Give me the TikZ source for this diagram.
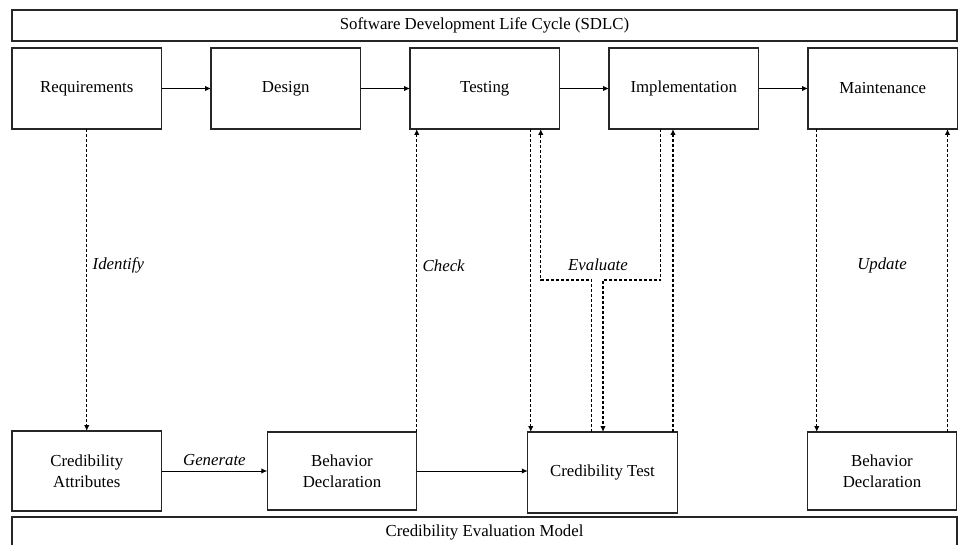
\documentclass[tikz,border=0pt]{standalone}
\usepackage{fontspec}
\setmainfont{Liberation Serif}
\usetikzlibrary{positioning, arrows.meta}
\tikzset{x=1pt, y=-1pt, node distance=49.5pt,
  box/.style={draw=black!85, line width=1.3pt, outer sep=0pt, minimum width=149.5pt, minimum height=81pt, align=center, font=\fontsize{16.8}{21}\selectfont},
  banner/.style={box, minimum width=945pt, minimum height=31pt, anchor=north west},
  flow/.style={-{Latex[length=6pt,width=5.5pt]}, line width=1pt},
  link/.style={flow, line width=1.2pt, dash pattern=on 3pt off 2pt},
  verb/.style={font=\fontsize{16.8}{21}\selectfont\itshape}}

\begin{document}
\begin{tikzpicture}
            \useasboundingbox (0,0) rectangle (958,545);
            \node[banner] (sdlc) at (12,10) {Software Development Life Cycle (SDLC)};
            \node[box, anchor=north west] (req) at (12,48) {Requirements};
            \node[box, right=of req] (des) {Design};
            \node[box, right=of des] (tst) {Testing};
            \node[box, right=of tst] (imp) {Implementation};
            \node[box, right=of imp] (mnt) {Maintenance};

            \node[box, minimum height=80pt] (attr) at (86.75,471) {Credibility\\Attributes};
            \node[box, minimum height=78pt] (decl) at (342,471) {Behavior\\Declaration};
            \node[box] (ctest) at (602.5,472.5) {Credibility Test};
            \node[box, minimum height=78pt] (decl2) at (882,471) {Behavior\\Declaration};
            \node[banner] (cem) at (12,517) {Credibility Evaluation Model};

            % fixed columns for the dashed links
            \coordinate (ev) at (0,280);
            \coordinate (tD) at ([xshift=46pt]tst.south);
            \coordinate (tA) at ([xshift=56pt]tst.south);
            \coordinate (cA) at ([xshift=-11pt]ctest.north);
            \coordinate (cB) at ([xshift=0.5pt]ctest.north);
            \coordinate (iB) at ([xshift=-23pt]imp.south);
            \coordinate (cU) at ([xshift=70.5pt]ctest.north);
            \coordinate (mD) at ([xshift=-66pt]mnt.south);
            \coordinate (dU) at ([xshift=65.5pt]decl2.north);

            \draw[flow] (req) -- (des);
            \draw[flow] (des) -- (tst);
            \draw[flow] (tst) -- (imp);
            \draw[flow] (imp) -- (mnt);
            \draw[flow] (attr) -- node[verb, above=1pt] {Generate} (decl);
            \draw[flow] (decl.east) -- (decl.east -| ctest.west);

            \draw[link] (req.south) -- node[verb, right=2pt, pos=0.45] {Identify} (attr.north);
            \draw[link] (decl.north east) -- node[verb, right=2pt, pos=0.55] {Check} (decl.north east |- tst.south);
            \draw[link] (tD) -- (tD |- ctest.north);
            \draw[link] (cA) |- (tA |- ev) -- (tA);
            \draw[link] (iB) |- (cB |- ev) -- (cB);
            \draw[link] (cU) -- (cU |- imp.south);
            \draw[link] (mD) -- (mD |- decl2.north);
            \draw[link] (dU) -- (dU |- mnt.south);
            \node[verb] (evaluate) at (598,265) {Evaluate};
            \node[verb] (update) at (882,265) {Update};
        \end{tikzpicture}
\end{document}
